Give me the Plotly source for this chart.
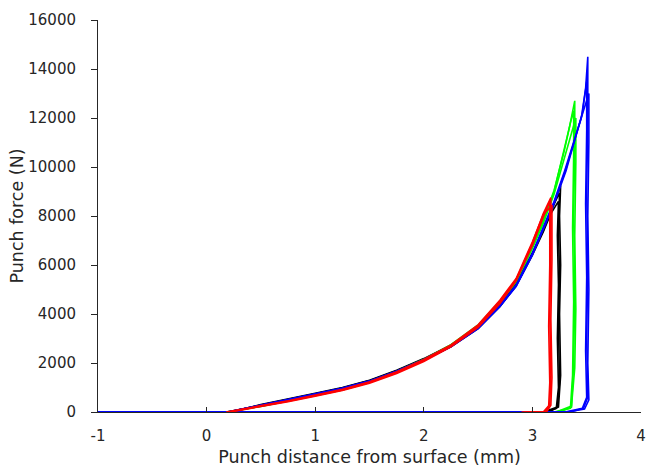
import plotly.graph_objects as go

# ---- data (punch distance in mm, punch force in N) ----
red_x_a = [0.20, 0.50, 0.75, 1.00, 1.25, 1.50, 1.75, 2.00, 2.25, 2.50, 2.70, 2.85, 3.00, 3.10, 3.17, 3.17, 3.16, 3.17, 3.16, 3.12, 2.90]
red_f_a = [0, 230, 440, 660, 900, 1200, 1600, 2100, 2700, 3500, 4500, 5400, 6900, 8100, 8750, 6500, 4000, 1500, 300, 0, 0]
red_x_b = [0.22, 0.50, 0.75, 1.00, 1.25, 1.50, 1.75, 2.00, 2.25, 2.50, 2.70, 2.85, 3.00, 3.10, 3.16, 3.16, 3.15, 3.16, 3.15, 3.10, 2.95]
red_f_b = [0, 210, 420, 640, 880, 1170, 1570, 2060, 2660, 3450, 4420, 5350, 6800, 7950, 8600, 6000, 3500, 1200, 250, 0, 0]
red_x_c = [0.18, 0.50, 0.75, 1.00, 1.25, 1.50, 1.75, 2.00, 2.25, 2.50, 2.70, 2.85, 3.00, 3.10, 3.18, 3.18, 3.17, 3.18, 3.17, 3.13, 2.92]
red_f_c = [0, 250, 460, 690, 930, 1230, 1640, 2140, 2740, 3560, 4560, 5450, 6950, 8050, 8450, 6200, 3800, 1400, 280, 0, 0]

black_x_a = [-1.0, 0.20, 0.50, 0.75, 1.00, 1.25, 1.50, 1.75, 2.00, 2.25, 2.50, 2.70, 2.85, 3.00, 3.10, 3.20, 3.26, 3.25, 3.26, 3.25, 3.26, 3.24, 3.15, -1.0]
black_f_a = [0, 0, 280, 500, 740, 980, 1280, 1680, 2150, 2700, 3450, 4350, 5200, 6450, 7400, 8500, 9250, 8000, 6000, 4000, 1500, 200, 0, 0]
black_x_b = [-1.0, 0.22, 0.50, 0.75, 1.00, 1.25, 1.50, 1.75, 2.00, 2.25, 2.50, 2.70, 2.85, 3.00, 3.10, 3.18, 3.25, 3.24, 3.25, 3.24, 3.25, 3.23, 3.10, -1.0]
black_f_b = [0, 0, 300, 520, 760, 1000, 1300, 1700, 2180, 2740, 3480, 4380, 5250, 6500, 7450, 8300, 8950, 7500, 5500, 3500, 1200, 200, 0, 0]
black_x_c = [-1.0, 0.18, 0.50, 0.75, 1.00, 1.25, 1.50, 1.75, 2.00, 2.25, 2.50, 2.70, 2.85, 3.00, 3.10, 3.17, 3.24, 3.23, 3.24, 3.23, 3.24, 3.22, 3.12, -1.0]
black_f_c = [0, 0, 260, 480, 720, 960, 1250, 1650, 2110, 2660, 3400, 4300, 5150, 6400, 7350, 8100, 8600, 7200, 5200, 3000, 1000, 150, 0, 0]

green_x_a = [-1.0, 0.20, 0.50, 0.75, 1.00, 1.25, 1.50, 1.75, 2.00, 2.25, 2.50, 2.70, 2.85, 3.00, 3.10, 3.20, 3.28, 3.34, 3.39, 3.39, 3.38, 3.39, 3.38, 3.36, 3.25, -1.0]
green_f_a = [0, 0, 240, 450, 680, 920, 1220, 1630, 2120, 2720, 3500, 4480, 5350, 6750, 7800, 9000, 10500, 11600, 12700, 11000, 8000, 5000, 2000, 200, 0, 0]
green_x_b = [-1.0, 0.21, 0.50, 0.75, 1.00, 1.25, 1.50, 1.75, 2.00, 2.25, 2.50, 2.70, 2.85, 3.00, 3.10, 3.20, 3.29, 3.35, 3.38, 3.38, 3.37, 3.38, 3.37, 3.35, 3.20, -1.0]
green_f_b = [0, 0, 250, 460, 700, 940, 1240, 1660, 2150, 2750, 3550, 4520, 5400, 6800, 7850, 9050, 10600, 11800, 12300, 10500, 7500, 4500, 1500, 150, 0, 0]
green_x_c = [-1.0, 0.19, 0.50, 0.75, 1.00, 1.25, 1.50, 1.75, 2.00, 2.25, 2.50, 2.70, 2.85, 3.00, 3.10, 3.20, 3.30, 3.36, 3.40, 3.40, 3.39, 3.40, 3.39, 3.36, 3.22, -1.0]
green_f_c = [0, 0, 230, 440, 670, 900, 1200, 1610, 2100, 2700, 3470, 4440, 5300, 6680, 7700, 8900, 10400, 11300, 12000, 10200, 7200, 4200, 1800, 250, 0, 0]

blue_x_a = [-1.0, 0.20, 0.50, 0.75, 1.00, 1.25, 1.50, 1.75, 2.00, 2.25, 2.50, 2.70, 2.85, 3.00, 3.10, 3.20, 3.30, 3.38, 3.45, 3.49, 3.51, 3.51, 3.50, 3.51, 3.50, 3.51, 3.47, 3.35, -1.0]
blue_f_a = [0, 0, 270, 490, 720, 960, 1250, 1650, 2120, 2680, 3420, 4320, 5150, 6450, 7500, 8550, 9800, 11000, 12000, 13200, 14500, 12000, 9000, 6000, 3000, 600, 150, 0, 0]
blue_x_b = [-1.0, 0.21, 0.50, 0.75, 1.00, 1.25, 1.50, 1.75, 2.00, 2.25, 2.50, 2.70, 2.85, 3.00, 3.10, 3.20, 3.31, 3.39, 3.46, 3.50, 3.50, 3.49, 3.50, 3.49, 3.50, 3.46, 3.30, -1.0]
blue_f_b = [0, 0, 260, 480, 710, 950, 1240, 1630, 2100, 2660, 3400, 4300, 5120, 6400, 7450, 8500, 9850, 11100, 12200, 13500, 11500, 8500, 5500, 2500, 600, 150, 0, 0]
blue_x_c = [-1.0, 0.19, 0.50, 0.75, 1.00, 1.25, 1.50, 1.75, 2.00, 2.25, 2.50, 2.70, 2.85, 3.00, 3.10, 3.20, 3.29, 3.37, 3.44, 3.50, 3.52, 3.52, 3.51, 3.52, 3.51, 3.52, 3.48, 3.32, -1.0]
blue_f_c = [0, 0, 280, 500, 740, 980, 1270, 1670, 2140, 2700, 3450, 4350, 5180, 6480, 7550, 8600, 9750, 10900, 11900, 12800, 13000, 11000, 8000, 5000, 2000, 500, 120, 0, 0]

x_ticks = [-1, 0, 1, 2, 3, 4]
y_ticks = [0, 2000, 4000, 6000, 8000, 10000, 12000, 14000, 16000]

series = [
    ("#000000", [(black_x_a, black_f_a), (black_x_b, black_f_b), (black_x_c, black_f_c)]),
    ("#00ff00", [(green_x_a, green_f_a), (green_x_b, green_f_b), (green_x_c, green_f_c)]),
    ("#0000ff", [(blue_x_a, blue_f_a), (blue_x_b, blue_f_b), (blue_x_c, blue_f_c)]),
    ("#ff0000", [(red_x_a, red_f_a), (red_x_b, red_f_b), (red_x_c, red_f_c)]),
]

fig = go.Figure()
for color, reps in series:
    for xs, fs in reps:
        fig.add_trace(go.Scatter(x=xs, y=fs, mode="lines",
                                 line=dict(color=color, width=1.6),
                                 hoverinfo="skip"))

axis_color = "#262626"
fig.update_layout(
    width=649, height=467,
    margin=dict(l=98, r=8, t=20, b=55, autoexpand=False),
    plot_bgcolor="white", paper_bgcolor="white",
    showlegend=False,
    font=dict(family="DejaVu Sans", color=axis_color),
)
fig.update_xaxes(
    range=[-1, 4], tickvals=x_ticks, ticktext=[str(v) for v in x_ticks],
    ticks="inside", ticklen=5, tickcolor=axis_color, tickwidth=1,
    showline=True, linecolor=axis_color, linewidth=1,
    showgrid=False, zeroline=False, mirror=False,
    tickfont=dict(size=15, color=axis_color), ticklabelstandoff=10,
    title=dict(text="Punch distance from surface (mm)", font=dict(size=17.5, color=axis_color), standoff=7),
    automargin=False,
)
fig.update_yaxes(
    range=[0, 16000], tickvals=y_ticks, ticktext=[str(v) for v in y_ticks],
    ticks="outside", ticklen=6, tickcolor=axis_color, tickwidth=1,
    showline=True, linecolor=axis_color, linewidth=1,
    showgrid=False, zeroline=False, mirror=False,
    tickfont=dict(size=15, color=axis_color), ticklabelstandoff=12,
    title=dict(text="Punch force (N)", font=dict(size=17.5, color=axis_color), standoff=0),
    automargin=False,
)

fig.write_html("out.html")
